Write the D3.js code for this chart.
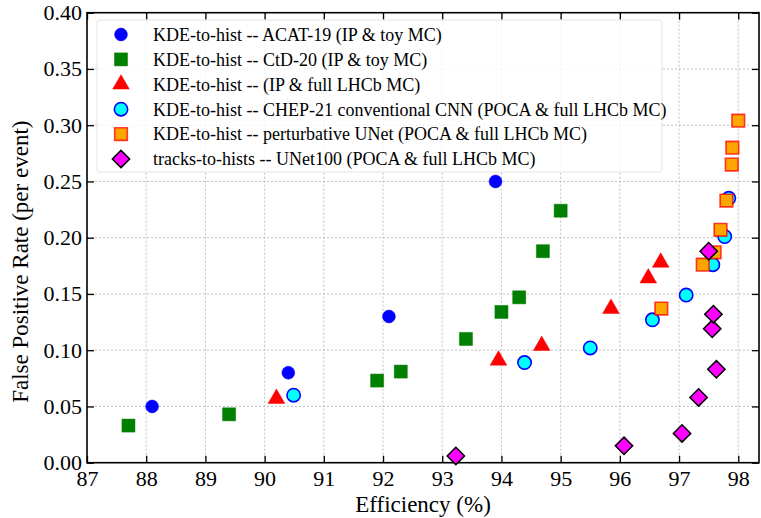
<!DOCTYPE html>
<html><head><meta charset="utf-8">
<script src="https://cdn.jsdelivr.net/npm/d3@7"></script>
<style>
@font-face { font-family: "ChartSerif"; src: local("Liberation Serif"), local("LiberationSerif"), local("LiberationSerif-Regular"), local("Times New Roman"); }
</style>
</head><body style="margin:0">
<svg id="c" width="761" height="518"></svg>
<script>
const xTicks = [87,88,89,90,91,92,93,94,95,96,97,98];
const yTicks = [0,0.05,0.10,0.15,0.20,0.25,0.30,0.35,0.40];
const seriesNames = [
  "KDE-to-hist -- ACAT-19 (IP & toy MC)",
  "KDE-to-hist -- CtD-20 (IP & toy MC)",
  "KDE-to-hist -- (IP & full LHCb MC)",
  "KDE-to-hist -- CHEP-21 conventional CNN (POCA & full LHCb MC)",
  "KDE-to-hist -- perturbative UNet (POCA & full LHCb MC)",
  "tracks-to-hists -- UNet100 (POCA & full LHCb MC)"
];
const acatEff = [88.1, 90.4, 92.1, 93.9];
const acatFpr = [0.050, 0.080, 0.130, 0.250];
const ctdEff = [87.7, 89.4, 91.9, 92.3, 93.4, 94.0, 94.3, 94.7, 95.0];
const ctdFpr = [0.033, 0.043, 0.073, 0.081, 0.110, 0.134, 0.147, 0.188, 0.224];
const fullEff = [90.2, 93.95, 94.68, 95.85, 96.48, 96.69];
const fullFpr = [0.057, 0.091, 0.104, 0.137, 0.164, 0.178];
const chepEff = [90.49, 94.39, 95.5, 96.55, 97.12, 97.57, 97.77, 97.84];
const chepFpr = [0.060, 0.089, 0.102, 0.127, 0.149, 0.176, 0.201, 0.235];
const pertEff = [96.70, 97.40, 97.60, 97.70, 97.80, 97.89, 97.90, 98.00];
const pertFpr = [0.137, 0.176, 0.187, 0.207, 0.233, 0.265, 0.280, 0.304];
const unetEff = [93.23, 96.07, 97.05, 97.33, 97.63, 97.56, 97.58, 97.50];
const unetFpr = [0.006, 0.015, 0.026, 0.058, 0.083, 0.119, 0.132, 0.188];

const FONT = "'Liberation Serif', ChartSerif, 'Times New Roman', Times, serif";
const svg = d3.select("#c").style("font-family", FONT);
const L=87, R=759, T=12.7, B=462.7;
const x = d3.scaleLinear().domain([87, 98.35]).range([L, R]);
const y = d3.scaleLinear().domain([0, 0.40]).range([B, T]);
function serif(sel) { return sel.attr("font-family", "Liberation Serif").style("font-family", FONT); }

// grid
const g = svg.append("g");
g.selectAll(".gx").data(xTicks.slice(1)).enter().append("line")
  .attr("x1", d=>x(d)).attr("x2", d=>x(d)).attr("y1", T).attr("y2", B)
  .attr("stroke", "#b0b0b0").attr("stroke-width", 0.8).attr("stroke-dasharray", "2,2");
g.selectAll(".gy").data(yTicks.slice(1, -1)).enter().append("line")
  .attr("y1", d=>y(d)).attr("y2", d=>y(d)).attr("x1", L).attr("x2", R)
  .attr("stroke", "#b0b0b0").attr("stroke-width", 0.8).attr("stroke-dasharray", "2,2");

// axes with inward ticks
const fmtY = d3.format(".2f");
const ax = svg.append("g").attr("transform", `translate(0,${B})`)
  .call(d3.axisBottom(x).tickValues(xTicks).tickSizeInner(-7).tickSizeOuter(0).tickPadding(7).tickFormat(d3.format("d")));
const ay = svg.append("g").attr("transform", `translate(${L},0)`)
  .call(d3.axisLeft(y).tickValues(yTicks).tickSizeInner(-7).tickSizeOuter(0).tickPadding(5).tickFormat(fmtY));
const at = svg.append("g").attr("transform", `translate(0,${T})`)
  .call(d3.axisTop(x).tickValues(xTicks).tickSizeInner(-7).tickSizeOuter(0).tickFormat(""));
const ar = svg.append("g").attr("transform", `translate(${R},0)`)
  .call(d3.axisRight(y).tickValues(yTicks).tickSizeInner(-7).tickSizeOuter(0).tickFormat(""));
[ax, ay, at, ar].forEach(a => {
  a.select(".domain").remove();
  serif(a).attr("font-size", null);
  a.selectAll(".tick line").attr("stroke", "#000").attr("stroke-width", 1.3);
  serif(a.selectAll("text").attr("font-size", 22).attr("fill", "#000"));
});
ax.selectAll("text").attr("dy", "0.72em");
svg.append("rect").attr("x", L).attr("y", T).attr("width", R-L).attr("height", B-T)
  .attr("fill", "none").attr("stroke", "#000").attr("stroke-width", 1.6);

// titles
serif(svg.append("text").attr("x", (L+R)/2).attr("y", 512).attr("text-anchor", "middle")
  .attr("font-size", 23)).text("Efficiency (%)");
serif(svg.append("text").attr("transform", `translate(28,${(T+B)/2 + 24}) rotate(-90)`).attr("text-anchor", "middle")
  .attr("font-size", 23)).text("False Positive Rate (per event)");

// marker styles
const styles = [
  {shape: d3.symbolCircle, size: 130, fill: "#0000ff", stroke: "#0000ff", sw: 0.5},
  {shape: d3.symbolSquare, size: 170, fill: "#007f00", stroke: "#007f00", sw: 0.5},
  {shape: d3.symbolTriangle, size: 120, fill: "#ff0000", stroke: "#ff0000", sw: 0.5},
  {shape: d3.symbolCircle, size: 140, fill: "#00ffff", stroke: "#0000ff", sw: 1.6},
  {shape: d3.symbolSquare, size: 160, fill: "#ffa500", stroke: "rgba(255,0,0,0.75)", sw: 1.6},
  {shape: d3.symbolSquare, size: 150, fill: "#ff00ff", stroke: "#000", sw: 1.5, rot: 45}
];
const data = [
  [acatEff, acatFpr], [ctdEff, ctdFpr], [fullEff, fullFpr],
  [chepEff, chepFpr], [pertEff, pertFpr], [unetEff, unetFpr]
];

// legend
const lg = svg.append("g");
lg.append("rect").attr("x", 97).attr("y", 20).attr("width", 565).attr("height", 152).attr("rx", 3)
  .attr("fill", "rgba(255,255,255,0.8)").attr("stroke", "#e4e4e4").attr("stroke-width", 1);
seriesNames.forEach((name, i) => {
  const st = styles[i];
  const yy = 34.5 + i * 24.9;
  lg.append("path").attr("d", d3.symbol().type(st.shape).size(st.size)())
    .attr("transform", `translate(121,${yy})` + (st.rot ? ` rotate(${st.rot})` : ""))
    .attr("fill", st.fill).attr("stroke", st.stroke).attr("stroke-width", st.sw);
  serif(lg.append("text").attr("x", 153).attr("y", yy).attr("dy", "0.35em")
    .attr("font-size", 18)).text(name);
});

// points
data.forEach((d, i) => {
  const st = styles[i];
  const pts = d[0].map((e, k) => [e, d[1][k]]);
  svg.append("g").selectAll("path").data(pts).enter().append("path")
    .attr("d", d3.symbol().type(st.shape).size(st.size)())
    .attr("transform", p => `translate(${x(p[0])},${y(p[1])})` + (st.rot ? ` rotate(${st.rot})` : ""))
    .attr("fill", st.fill).attr("stroke", st.stroke).attr("stroke-width", st.sw);
});
</script></body></html>
